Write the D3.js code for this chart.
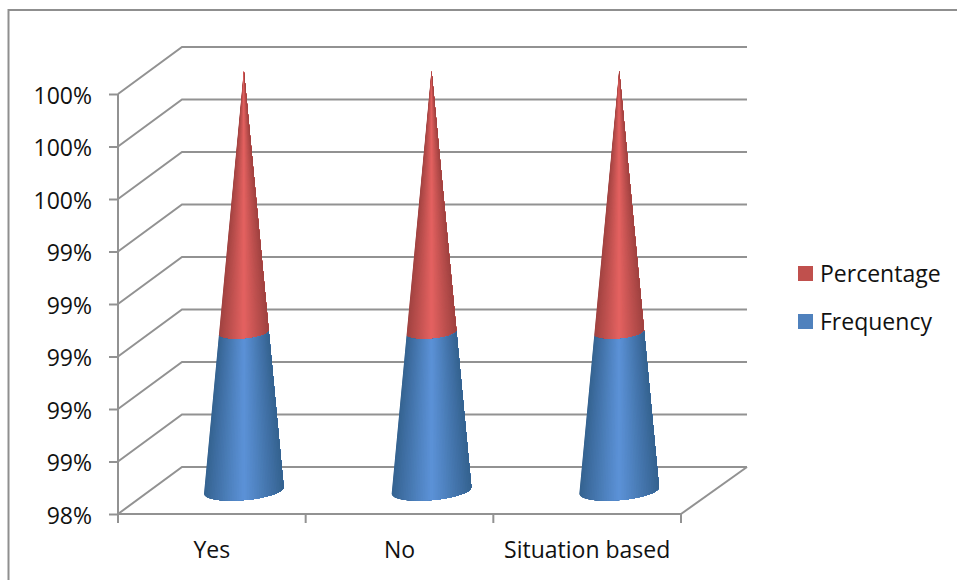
<!DOCTYPE html>
<html><head><meta charset="utf-8">
<style>html,body{margin:0;padding:0;background:#fff}svg{display:block}text{font-family:"Open Sans",Lato,sans-serif;font-size:23px;fill:#111}</style>
<script src="https://cdn.jsdelivr.net/npm/d3@7"></script>
</head><body><svg id="c" width="957" height="580"></svg>
<script>
const categories = ["Yes", "No", "Situation based"];
const frequency = [99, 99, 99];
const percentage = [1, 1, 1];
const seriesNames = ["Percentage", "Frequency"];
const tickValues = [98.4, 98.6, 98.8, 99.0, 99.2, 99.4, 99.6, 99.8, 100];
const tickLabels = ["98%", "99%", "99%", "99%", "99%", "99%", "100%", "100%", "100%"];

const svg = d3.select("#c");
const W = 957, H = 580;
const gridC = "#929292";
const plot = {x0: 118, x1: 681, y0: 514, y1: 94};
const depth = {dx: 64, dy: -47};
const x = d3.scaleBand().domain(categories).range([plot.x0, plot.x1]);
const y = d3.scaleLinear().domain([98.4, 100]).range([plot.y0, plot.y1]);
const r = d3.scaleLinear().domain([98.4, 100]).range([40, 0]);
const ryRatio = 0.24, tilt = -5 * Math.PI / 180;

// frame
svg.append("path").attr("d", `M8.5,${H}V10H${W}`).attr("fill", "none").attr("stroke", "#8f8f8f").attr("stroke-width", 2);

const ln = (x1, y1, x2, y2) => svg.append("line").attr("x1", x1).attr("y1", y1).attr("x2", x2).attr("y2", y2)
  .attr("stroke", gridC).attr("stroke-width", 2);

// gridlines: side wall + back wall
tickValues.forEach(v => {
  const py = y(v);
  svg.append("path").attr("fill", "none").attr("stroke", gridC).attr("stroke-width", 2)
    .attr("d", `M${plot.x0},${py}L${plot.x0 + depth.dx},${py + depth.dy}H${plot.x1 + depth.dx + 2}`);
});
// floor
svg.append("path").attr("fill", "none").attr("stroke", gridC).attr("stroke-width", 2)
  .attr("d", `M${plot.x1},${plot.y0}L${plot.x1 + depth.dx + 2},${plot.y0 + depth.dy}`);

// axes
const yAxis = svg.append("g").attr("transform", `translate(${plot.x0},0)`)
  .call(d3.axisLeft(y).tickValues(tickValues).tickFormat((d, i) => tickLabels[i]).tickSize(9).tickPadding(17));
const xAxis = svg.append("g").attr("transform", `translate(0,${plot.y0})`)
  .call(d3.axisBottom(x).tickSize(0).tickPadding(28));
[yAxis, xAxis].forEach(a => {
  a.selectAll("text").attr("font-size", null).style("font-family", null);
  a.attr("font-family", null).attr("font-size", null);
  a.selectAll("line,path").attr("stroke", gridC).attr("stroke-width", 2);
});
yAxis.select(".domain").attr("d", `M0,${plot.y1}V${plot.y0}`);
xAxis.select(".domain").attr("d", `M${plot.x0},0H${plot.x1}`);
xAxis.selectAll("text").attr("dy", "0.71em");
yAxis.selectAll("text").attr("dy", "0.41em");
const xEdges = [...categories.map(c => x(c)), plot.x1];
xEdges.forEach(e => ln(e, plot.y0, e, plot.y0 + 9));

// cones
const defs = svg.append("defs");
const shade = (edge, mid) => t => d3.interpolateRgb(edge, mid)(1 - Math.abs(2 * t - 1));
const palette = {
  Frequency: shade("#34628f", "#5c92d8"),
  Percentage: shade("#9f4240", "#e46261")
};
const segments = [
  {name: "Percentage", base: i => frequency[i], top: i => frequency[i] + percentage[i]},
  {name: "Frequency", base: () => 98.4, top: i => frequency[i]}
];
const cy = v => y(v) + depth.dy / 2;
const ell = (cx, v) => {
  const R = r(v), cs = Math.cos(tilt), sn = Math.sin(tilt);
  return {R, ry: R * ryRatio, lx: cx - R * cs, ly: cy(v) - R * sn, rx: cx + R * cs, ry2: cy(v) + R * sn};
};
const rot = tilt * 180 / Math.PI;
categories.forEach((cat, i) => {
  const cx = x(cat) + x.bandwidth() / 2 + depth.dx / 2;
  const apexY = cy(100);
  segments.forEach((s, k) => {
    const a = ell(cx, s.base(i)), b = ell(cx, Math.min(s.top(i), 99.995));
    const id = `clip${i}${k}`;
    const d = `M${a.lx},${a.ly}A${a.R},${a.ry} ${rot} 0 0 ${a.rx},${a.ry2}L${b.rx},${b.ry2}` +
      (s.name === "Percentage" ? `L${b.lx},${b.ly}Z` : `A${b.R},${b.ry} ${rot} 0 1 ${b.lx},${b.ly}Z`);
    defs.append("clipPath").attr("id", id).append("path").attr("d", d);
    const g = svg.append("g").attr("clip-path", `url(#${id})`);
    const R0 = 41, baseY = cy(98.4) + 20, N = 48;
    // the shading of a cone fans out from its apex
    const baseLen = (baseY - apexY) / (cy(98.4) - apexY) * R0;
    d3.range(N).forEach(j => {
      const px = cx - baseLen + 2 * baseLen * j / N;
      const t = j / (N - 1);
      g.append("path").attr("d", `M${cx},${apexY - 1}L${px},${baseY}L${cx + baseLen + 5},${baseY}L${cx + baseLen + 5},${apexY - 1}Z`)
        .attr("fill", palette[s.name](t));
    });
  });
});

// legend
const legend = [{n: seriesNames[0], c: "#c0504d", ty: 274}, {n: seriesNames[1], c: "#4f81bd", ty: 322}];
const lg = svg.selectAll("g.lg").data(legend).join("g").attr("class", "lg");
lg.append("rect").attr("x", 798).attr("y", d => d.ty - 8).attr("width", 15).attr("height", 15).attr("fill", d => d.c);
lg.append("text").attr("x", 820).attr("y", d => d.ty).attr("dy", "0.35em").text(d => d.n);
</script></body></html>
